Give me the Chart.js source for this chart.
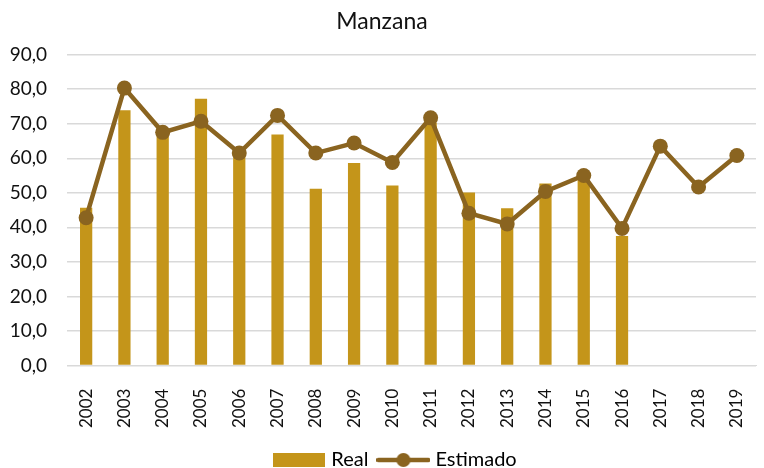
<!DOCTYPE html>
<html>
<head>
<meta charset="utf-8">
<script src="https://cdn.jsdelivr.net/npm/chart.js@4/dist/chart.umd.min.js"></script>
<style>
html,body{margin:0;padding:0;background:#fff;}
#wrap{width:764px;height:468px;position:relative;}
</style>
</head>
<body>
<div id="wrap"><canvas id="c" width="764" height="468"></canvas></div>
<script>
const categories = ["2002","2003","2004","2005","2006","2007","2008","2009","2010","2011","2012","2013","2014","2015","2016","2017","2018","2019"];
const realValues = [45.7, 73.9, 68.5, 77.2, 61.0, 66.9, 51.2, 58.6, 52.1, 70.3, 50.1, 45.5, 52.7, 53.8, 37.5, null, null, null];
const estimadoValues = [42.8, 80.3, 67.5, 70.7, 61.5, 72.4, 61.5, 64.4, 58.8, 71.7, 44.1, 41.0, 50.4, 55.0, 39.7, 63.5, 51.7, 60.8];
const yTicks = [0, 10, 20, 30, 40, 50, 60, 70, 80, 90];

const BAR = '#C4951A';
const LINE = '#8A6420';
const FONT = 'Lato, "Open Sans", "Liberation Sans", sans-serif';

function barIcon(){
  const c = document.createElement('canvas'); c.width = 52; c.height = 14;
  const x = c.getContext('2d'); x.fillStyle = BAR; x.fillRect(0,0,52,14); return c;
}
function lineIcon(){
  const c = document.createElement('canvas'); c.width = 54; c.height = 16;
  const x = c.getContext('2d');
  x.strokeStyle = LINE; x.lineWidth = 4.5; x.lineCap = 'round';
  x.beginPath(); x.moveTo(2,8); x.lineTo(52,8); x.stroke();
  x.fillStyle = LINE; x.beginPath(); x.arc(27,8,7,0,Math.PI*2); x.fill();
  return c;
}
const icons = [barIcon(), lineIcon()];

const legendShift = {
  id: 'legendShift',
  afterLayout(chart) { if (chart.legend) { chart.legend.left += 15; chart.legend.right += 15; } }
};

new Chart(document.getElementById('c'), {
  data: {
    labels: categories,
    datasets: [
      { type: 'line', label: 'Estimado', data: estimadoValues, borderColor: LINE, backgroundColor: LINE,
        borderWidth: 4.5, pointRadius: 7.5, pointHoverRadius: 7.5, pointBackgroundColor: LINE, pointBorderWidth: 0,
        tension: 0, order: 1 },
      { type: 'bar', label: 'Real', data: realValues, backgroundColor: BAR, borderWidth: 0,
        categoryPercentage: 1.0, barPercentage: 0.32, order: 2 }
    ]
  },
  plugins: [legendShift],
  options: {
    responsive: false,
    animation: false,
    layout: { padding: { left: 8, right: 8, top: 0, bottom: -12 } },
    plugins: {
      title: { display: true, text: 'Manzana', color: '#111', font: { family: FONT, size: 23, weight: 'normal' },
        padding: { top: 8, bottom: 19 } },
      legend: {
        position: 'bottom',
        labels: {
          color: '#111', font: { family: FONT, size: 20 },
          usePointStyle: true, pointStyleWidth: 44, boxHeight: 16, padding: 13,
          generateLabels(chart) {
            return [
              { text: 'Real', pointStyle: icons[0], fillStyle: BAR, strokeStyle: BAR, lineWidth: 0, datasetIndex: 1, hidden: false },
              { text: 'Estimado', pointStyle: icons[1], fillStyle: LINE, strokeStyle: LINE, lineWidth: 0, datasetIndex: 0, hidden: false }
            ];
          }
        }
      },
      tooltip: { enabled: false }
    },
    scales: {
      x: {
        offset: true,
        grid: { display: false },
        border: { display: true, color: '#d9d9d9' },
        ticks: { color: '#111', font: { family: FONT, size: 17 }, maxRotation: 90, minRotation: 90, padding: 15 },
        afterFit(axis) { axis.height -= 6; axis.paddingRight = 0; axis.paddingLeft = 0; }
      },
      y: {
        min: 0, max: 90,
        afterBuildTicks(axis) { axis.ticks = yTicks.map(v => ({ value: v })); },
        afterFit(axis) { axis.width = 59; axis.paddingTop = 0; axis.paddingBottom = 0; },
        grid: { color: '#d9d9d9', lineWidth: 1.5, drawTicks: false },
        border: { display: false },
        ticks: { color: '#111', font: { family: FONT, size: 19 }, padding: 20,
          callback: v => v.toFixed(1).replace('.', ',') }
      }
    }
  }
});
</script>
</body>
</html>
